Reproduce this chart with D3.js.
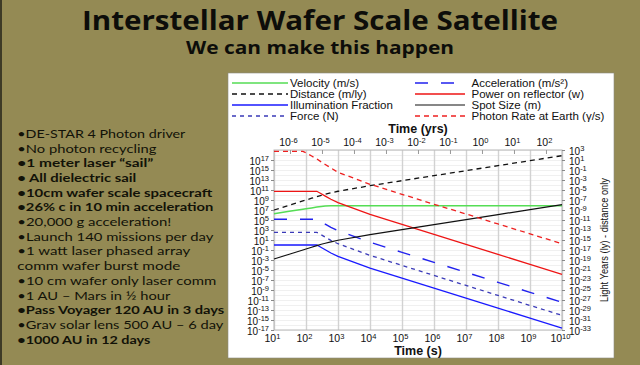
<!DOCTYPE html>
<html><head><meta charset="utf-8">
<script src="https://cdn.jsdelivr.net/npm/d3@7"></script>
<style>html,body{margin:0;padding:0;background:#948a54;}svg{display:block;}</style>
</head><body>
<svg id="c" width="640" height="365"></svg>
<script>
// ---- data ----
const timeSec = [10,30,80,100,150,218,300,400,600,1000,1e4,1e5,1e6,1e7,1e8,1e9,1e10];
const velocity = [1.8e6,5.4e6,1.4e7,1.75e7,2.6e7,3.8e7,5.0e7,6.0e7,6.9e7,7.3e7,7.4e7,7.4e7,7.4e7,7.4e7,7.4e7,7.4e7,7.4e7];
const distance = [1e7,9e7,6.4e8,1e9,2.25e9,4.75e9,8.7e9,1.4e10,2.7e10,5.6e10,7.2e11,7.4e12,7.4e13,7.4e14,7.4e15,7.4e16,7.4e17];
const illumination = [1,1,1,1,1,1,0.32,0.11,0.025,5.4e-3,2.5e-5,2.4e-7,2.4e-9,2.4e-11,2.4e-13,2.4e-15,2.5e-17];
const force = [340,340,340,340,340,340,110,37,8.5,1.8,8.5e-3,8.2e-5,8.2e-7,8.2e-9,8.2e-11,8.2e-13,8.5e-15];
const acceleration = [1.4e5,1.4e5,1.4e5,1.4e5,1.4e5,1.4e5,4.5e4,1.5e4,3.5e3,750,3.5,3.4e-2,3.4e-4,3.4e-6,3.4e-8,3.4e-10,3.5e-12];
const power = [5.5e10,5.5e10,5.5e10,5.5e10,5.5e10,5.5e10,1.76e10,6e9,1.4e9,3e8,1.4e6,1.3e4,130,1.3,1.3e-2,1.3e-4,1.4e-6];
const spotSize = [1.6e-3,1.4e-2,0.1,0.16,0.36,0.75,1.4,2.2,4.3,8.9,114,1.2e3,1.2e4,1.2e5,1.2e6,1.2e7,1.2e8];
const photonRate = [5.5e18,5.5e18,5.5e18,2.8e18,6.3e17,1.6e17,4e16,1.26e16,2.5e15,3.5e14,1.4e12,1.4e10,1.4e8,1.6e6,1.6e4,1.7e2,1.8];

const bottomExps = [1,2,3,4,5,6,7,8,9,10];
const topExps = [-6,-5,-4,-3,-2,-1,0,1,2];
const leftExps = [17,15,13,11,9,7,5,3,1,-1,-3,-5,-7,-9,-11,-13,-15,-17];
const rightExps = [3,1,-1,-3,-5,-7,-9,-11,-13,-15,-17,-19,-21,-23,-25,-27,-29,-31,-33];

const legendLabels = ["Velocity (m/s)","Distance (m/ly)","Illumination Fraction","Force (N)",
  "Acceleration (m/s²)","Power on reflector (w)","Spot Size (m)","Photon Rate at Earth (γ/s)"];

const title = "Interstellar Wafer Scale Satellite";
const subtitle = "We can make this happen";
const bullets = [
 ["•DE-STAR 4 Photon driver",false,168],
 ["•No photon recycling",false,139],
 ["•1 meter laser “sail”",true,136],
 ["• All dielectric sail",true,119],
 ["•10cm wafer scale spacecraft",true,195],
 ["•26% c in 10 min acceleration",true,196],
 ["•20,000 g acceleration!",false,154],
 ["•Launch 140 missions per day",false,196],
 ["•1 watt laser phased array",false,173],
 ["comm wafer burst mode",false,163],
 ["•10 cm wafer only laser comm",false,199],
 ["•1 AU – Mars in ½ hour",false,153],
 ["•Pass Voyager 120 AU in 3 days",true,207],
 ["•Grav solar lens 500 AU – 6 day",false,206],
 ["•1000 AU in 12 days",true,133]
];

// ---- drawing ----
const svg = d3.select("#c");
svg.append("rect").attr("x",0).attr("y",0).attr("width",640).attr("height",365).attr("fill","#948a54");
svg.append("rect").attr("x",0).attr("y",0).attr("width",2).attr("height",365).attr("fill","#3d3a26");

// title
svg.append("text").attr("x",320).attr("y",30).attr("text-anchor","middle")
  .attr("font-family","Open Sans, sans-serif").attr("font-weight","bold").attr("font-size",26)
  .attr("textLength",476).attr("lengthAdjust","spacingAndGlyphs").attr("fill","#0d0d0a").text(title);
svg.append("text").attr("x",320).attr("y",54).attr("text-anchor","middle")
  .attr("font-family","Open Sans, sans-serif").attr("font-weight","bold").attr("font-size",17)
  .attr("textLength",268).attr("lengthAdjust","spacingAndGlyphs").attr("fill","#0d0d0a").text(subtitle);

// bullets
bullets.forEach((b,i)=>{
  svg.append("text").attr("x",17.3).attr("y",137.8+i*14.7)
    .attr("font-family","Lato, sans-serif").attr("font-size",12.2)
    .attr("font-weight",b[1]?"bold":"normal").attr("fill","#121208")
    .attr("textLength",b[2]).attr("lengthAdjust","spacingAndGlyphs").text(b[0]);
});

// white panel
svg.append("rect").attr("x",228).attr("y",73).attr("width",386).attr("height",285).attr("fill","#ffffff")
  .attr("stroke","#8a8a80").attr("stroke-width",0.6);

const X0=274,X1=562,Y0=150,Y1=330;
const x = d3.scaleLog().domain([10,1e10]).range([X0,X1]);
const xTop = d3.scaleLog().domain([10/31557600,1e10/31557600]).range([X0,X1]);
const yL = d3.scaleLog().domain([1e-17,1e19]).range([Y1,Y0]);
const yR = d3.scaleLog().domain([1e-33,1e3]).range([Y1,Y0]);

// horizontal light grid every decade
const decs = d3.range(-17,20).map(e=>Math.pow(10,e));
svg.append("g").attr("transform",`translate(${X0},0)`)
  .call(d3.axisLeft(yL).tickValues(decs).tickSize(-(X1-X0)).tickFormat(""))
  .call(g=>{g.select(".domain").remove();g.selectAll("line").attr("stroke","#ececec").attr("stroke-width",0.8);});
// vertical grid
svg.append("g").attr("transform",`translate(0,${Y1})`)
  .call(d3.axisBottom(x).tickValues(bottomExps.map(e=>Math.pow(10,e))).tickSize(-(Y1-Y0)).tickFormat(""))
  .call(g=>{g.select(".domain").remove();g.selectAll("line").attr("stroke","#d2d2d2").attr("stroke-width",1.4);});

// frame
svg.append("rect").attr("x",X0).attr("y",Y0).attr("width",X1-X0).attr("height",Y1-Y0)
  .attr("fill","none").attr("stroke","#b8b8b8").attr("stroke-width",1);

function supLabels(g, exps, supSize){
  g.selectAll(".tick text").each(function(d,i){
    const t = d3.select(this); t.text(null);
    t.append("tspan").text("10");
    t.append("tspan").attr("dy","-0.45em").attr("font-size",supSize).text(String(exps[i]));
  });
}
const tickFont = "Liberation Sans, Arial, sans-serif";

// bottom axis
svg.append("g").attr("transform",`translate(0,${Y1})`)
  .call(d3.axisBottom(x).tickValues(bottomExps.map(e=>Math.pow(10,e))).tickSize(0).tickPadding(8))
  .call(g=>{g.select(".domain").remove();
    g.selectAll("text").attr("font-family",tickFont).attr("font-size",10.5).attr("fill","#111")
     .attr("y",12).attr("dy",0).attr("dx","-0.2em");
    supLabels(g,bottomExps,7.5);});
// top axis
svg.append("g").attr("transform",`translate(0,${Y0})`)
  .call(d3.axisTop(xTop).tickValues(topExps.map(e=>Math.pow(10,e))).tickSize(-4).tickPadding(7))
  .call(g=>{g.select(".domain").remove();g.selectAll("line").attr("stroke","#999");
    g.selectAll("text").attr("font-family",tickFont).attr("font-size",10.5).attr("fill","#111")
     .attr("y",-4).attr("dy",0).attr("dx","-0.2em");
    supLabels(g,topExps,7.5);});
// left axis
svg.append("g").attr("transform",`translate(${X0},0)`)
  .call(d3.axisLeft(yL).tickValues(leftExps.map(e=>Math.pow(10,e))).tickSize(3).tickPadding(2))
  .call(g=>{g.select(".domain").remove();g.selectAll("line").attr("stroke","#888");
    g.selectAll("text").attr("font-family",tickFont).attr("font-size",10).attr("fill","#111").attr("dy","0.4em");
    supLabels(g,leftExps,7.5);});
// right axis
svg.append("g").attr("transform",`translate(${X1},0)`)
  .call(d3.axisRight(yR).tickValues(rightExps.map(e=>Math.pow(10,e))).tickSize(3).tickPadding(4))
  .call(g=>{g.select(".domain").remove();g.selectAll("line").attr("stroke","#888");
    g.selectAll("text").attr("font-family",tickFont).attr("font-size",10).attr("fill","#111").attr("dy","0.4em");
    supLabels(g,rightExps,7.5);});

// axis titles
svg.append("text").attr("x",(X0+X1)/2).attr("y",133).attr("text-anchor","middle")
  .attr("font-family",tickFont).attr("font-weight","bold").attr("font-size",12.5).attr("fill","#111").text("Time (yrs)");
svg.append("text").attr("x",(X0+X1)/2).attr("y",355).attr("text-anchor","middle")
  .attr("font-family",tickFont).attr("font-weight","bold").attr("font-size",12.5).attr("fill","#111").text("Time (s)");
svg.append("text").attr("transform",`translate(608,${(Y0+Y1)/2}) rotate(-90)`).attr("text-anchor","middle")
  .attr("font-family",tickFont).attr("font-size",11).attr("fill","#111")
  .attr("textLength",124).attr("lengthAdjust","spacingAndGlyphs").text("Light Years (ly) - distance only");

// series
const series = [
  {vals:velocity, color:"#55dd55", dash:null, w:1.5},
  {vals:distance, color:"#111111", dash:"5,4", w:1.3},
  {vals:illumination, color:"#1a1aff", dash:null, w:1.3},
  {vals:force, color:"#3a3ab8", dash:"4,4", w:1.3},
  {vals:acceleration, color:"#2222ee", dash:"13,13", w:1.4},
  {vals:power, color:"#ee1515", dash:null, w:1.3},
  {vals:spotSize, color:"#111111", dash:null, w:1.2},
  {vals:photonRate, color:"#ee2020", dash:"5,4", w:1.3}
];
const line = d3.line().x(d=>x(d[0])).y(d=>yL(d[1]));
const pg = svg.append("g");
series.forEach(s=>{
  pg.append("path").datum(timeSec.map((t,i)=>[t,s.vals[i]])).attr("d",line)
    .attr("fill","none").attr("stroke",s.color).attr("stroke-width",s.w)
    .attr("stroke-dasharray",s.dash);
});

// legend
const lg = svg.append("g");
series.forEach((s,i)=>{
  const col = i<4?0:1, row = i%4;
  const lx = col===0?232:415, lw = col===0?56:50, tx = col===0?290:471.5;
  const ly = 83+row*11;
  lg.append("line").attr("x1",lx).attr("x2",lx+lw).attr("y1",ly).attr("y2",ly)
    .attr("stroke",s.color).attr("stroke-width",s.w).attr("stroke-dasharray",s.dash);
  lg.append("text").attr("x",tx).attr("y",ly+4).attr("font-family",tickFont).attr("font-size",11.5)
    .attr("fill","#111").text(legendLabels[i]);
});
</script>
</body></html>
